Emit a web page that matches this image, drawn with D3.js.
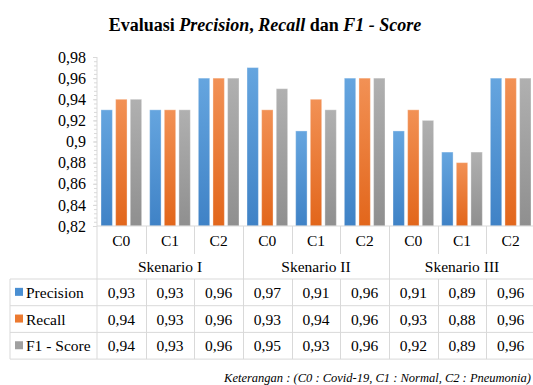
<!DOCTYPE html>
<html>
<head>
<meta charset="utf-8">
<script src="https://cdn.jsdelivr.net/npm/d3@7/dist/d3.min.js"></script>
<style>
  @font-face { font-family: 'ChartSerif'; src: local('Liberation Serif'), local('LiberationSerif'), local('Times New Roman'); font-weight: normal; font-style: normal; }
  @font-face { font-family: 'ChartSerif'; src: local('Liberation Serif Bold'), local('LiberationSerif-Bold'); font-weight: bold; font-style: normal; }
  @font-face { font-family: 'ChartSerif'; src: local('Liberation Serif Italic'), local('LiberationSerif-Italic'); font-weight: normal; font-style: italic; }
  @font-face { font-family: 'ChartSerif'; src: local('Liberation Serif Bold Italic'), local('LiberationSerif-BoldItalic'); font-weight: bold; font-style: italic; }
</style>
</head>
<body style="margin:0;background:#fff">
<svg id="fig" width="533" height="385" style="display:block"></svg>
<script>
// Data
var scenarios = ['Skenario I', 'Skenario II', 'Skenario III'];
var classes = ['C0', 'C1', 'C2'];
var seriesNames = ['Precision', 'Recall', 'F1 - Score'];
var precision = [0.93, 0.93, 0.96, 0.97, 0.91, 0.96, 0.91, 0.89, 0.96];
var recall    = [0.94, 0.93, 0.96, 0.93, 0.94, 0.96, 0.93, 0.88, 0.96];
var f1score   = [0.94, 0.93, 0.96, 0.95, 0.93, 0.96, 0.92, 0.89, 0.96];
var yTicks = [0.82, 0.84, 0.86, 0.88, 0.9, 0.92, 0.94, 0.96, 0.98];

var seriesValues = [precision, recall, f1score];
var palette = [
  { top: '#65a5df', bottom: '#3f82c6', legend: '#4a8fd2' },
  { top: '#f29155', bottom: '#e2661b', legend: '#ec7a30' },
  { top: '#b0b0b0', bottom: '#8f8f8f', legend: '#a0a0a0' }
];

var FONT = 'Liberation Serif';
var svg = d3.select('#fig');
var W = 533;

var plotLeft = 97, plotRight = 535;
var plotTop = 57, plotBottom = 226;
var catRowBottom = 254, scenRowBottom = 279;
var rowH = 26.7;
var tableLeft = 10;
var lineColor = '#d9d9d9';
var fs = 15.5;

// groups: one per scenario/class pair
var groups = [];
scenarios.forEach(function(s) {
  classes.forEach(function(c) { groups.push(s + '|' + c); });
});

var x0 = d3.scaleBand().domain(groups).range([plotLeft, plotRight]);
var x1 = d3.scaleBand().domain(seriesNames).range([4, x0.bandwidth() - 4]).paddingInner(0.22);
var y = d3.scaleLinear().domain([0.82, 0.98]).range([plotBottom, plotTop]);

function serif(sel, size) {
  return sel.attr('font-family', FONT)
    .attr('font-size', size)
    .style('font-family', "'Liberation Serif', ChartSerif, 'Times New Roman', serif");
}

// gradients
var defs = svg.append('defs');
palette.forEach(function(p, i) {
  var g = defs.append('linearGradient')
    .attr('id', 'grad' + i)
    .attr('x1', 0).attr('y1', 0).attr('x2', 0).attr('y2', 1);
  g.append('stop').attr('offset', '0%').attr('stop-color', p.top);
  g.append('stop').attr('offset', '100%').attr('stop-color', p.bottom);
});

// title
var title = svg.append('text')
  .attr('x', 265)
  .attr('y', 31)
  .attr('text-anchor', 'middle')
  .attr('font-weight', 'bold')
  .attr('fill', '#000')
  .call(serif, 18);
title.append('tspan').text('Evaluasi ');
title.append('tspan').attr('font-style', 'italic').text('Precision');
title.append('tspan').text(', ');
title.append('tspan').attr('font-style', 'italic').text('Recall');
title.append('tspan').text(' dan ');
title.append('tspan').attr('font-style', 'italic').text('F1 - Score');

// y axis with minor ticks
var yAxis = d3.axisLeft(y)
  .tickValues(yTicks)
  .tickSize(4)
  .tickPadding(7)
  .tickFormat(function(d) { return d3.format('.2~f')(d).replace('.', ','); });

var minor = d3.range(0, 41).map(function(i) { return 0.82 + i * 0.004; });
svg.append('g')
  .attr('transform', 'translate(' + plotLeft + ',0)')
  .call(d3.axisLeft(y).tickValues(minor).tickSize(3).tickFormat(''))
  .call(function(g) {
    g.select('.domain').remove();
    g.selectAll('line').attr('stroke', lineColor);
  });

svg.append('g')
  .attr('transform', 'translate(' + plotLeft + ',0)')
  .call(yAxis)
  .call(function(g) {
    g.attr('font-family', FONT).attr('font-size', 16);
    g.select('.domain').attr('stroke', lineColor).attr('d', 'M0,' + plotTop + 'V' + plotBottom);
    g.selectAll('.tick line').attr('stroke', lineColor);
    g.selectAll('.tick text').attr('fill', '#000').call(serif, 16);
  });

// bars
seriesNames.forEach(function(name, si) {
  svg.append('g')
    .selectAll('rect')
    .data(seriesValues[si])
    .join('rect')
    .attr('x', function(d, i) { return x0(groups[i]) + x1(name); })
    .attr('y', function(d) { return y(d); })
    .attr('width', x1.bandwidth())
    .attr('height', function(d) { return plotBottom - y(d); })
    .attr('fill', 'url(#grad' + si + ')')
    .attr('stroke', 'rgba(255,255,255,0.35)')
    .attr('stroke-width', 1);
});

// table grid
var grid = svg.append('g').attr('stroke', lineColor).attr('stroke-width', 1).attr('fill', 'none');
var rowLines = [scenRowBottom, scenRowBottom + rowH, scenRowBottom + 2 * rowH, scenRowBottom + 3 * rowH];
rowLines.forEach(function(yy) {
  grid.append('line').attr('x1', tableLeft).attr('x2', W).attr('y1', yy).attr('y2', yy);
});
// x-axis line
grid.append('line').attr('x1', plotLeft).attr('x2', W).attr('y1', plotBottom).attr('y2', plotBottom);
// left borders
grid.append('line').attr('x1', tableLeft).attr('x2', tableLeft).attr('y1', scenRowBottom).attr('y2', rowLines[3]);
grid.append('line').attr('x1', plotLeft).attr('x2', plotLeft).attr('y1', plotBottom).attr('y2', rowLines[3]);
groups.forEach(function(gk, i) {
  if (i === 0) return;
  var xx = Math.round(x0(gk)) + 0.5;
  var isScen = i % classes.length === 0;
  grid.append('line').attr('x1', xx).attr('x2', xx)
    .attr('y1', plotBottom).attr('y2', isScen ? rowLines[3] : catRowBottom);
  if (!isScen) {
    grid.append('line').attr('x1', xx).attr('x2', xx)
      .attr('y1', scenRowBottom).attr('y2', rowLines[3]);
  }
});

var labels = svg.append('g').attr('fill', '#000').attr('font-family', FONT);

// class labels
labels.append('g')
  .selectAll('text')
  .data(groups)
  .join('text')
  .attr('x', function(d) { return x0(d) + x0.bandwidth() / 2; })
  .attr('y', 246)
  .attr('text-anchor', 'middle')
  .call(serif, fs)
  .text(function(d) { return d.split('|')[1]; });

// scenario labels
labels.append('g')
  .selectAll('text')
  .data(scenarios)
  .join('text')
  .attr('x', function(d, i) { return x0(groups[i * 3]) + x0.bandwidth() * 1.5; })
  .attr('y', 272)
  .attr('text-anchor', 'middle')
  .call(serif, fs)
  .text(function(d) { return d; });

// data rows
seriesNames.forEach(function(name, si) {
  var cy = scenRowBottom + rowH * si + rowH / 2;
  labels.append('rect')
    .attr('x', 15).attr('y', cy - 4.5)
    .attr('width', 8).attr('height', 8)
    .attr('fill', palette[si].legend);
  labels.append('text')
    .attr('x', 26).attr('y', cy + 5.5)
    .call(serif, fs)
    .text(name);
  labels.append('g')
    .selectAll('text')
    .data(seriesValues[si])
    .join('text')
    .attr('x', function(d, i) { return x0(groups[i]) + x0.bandwidth() / 2; })
    .attr('y', cy + 5.5)
    .attr('text-anchor', 'middle')
    .call(serif, fs)
    .text(function(d) { return d3.format('.2f')(d).replace('.', ','); });
});

// footnote
svg.append('text')
  .attr('x', 531)
  .attr('y', 382)
  .attr('text-anchor', 'end')
  .attr('font-style', 'italic')
  .call(serif, 12.5)
  .text('Keterangan : (C0 : Covid-19,  C1 : Normal,   C2 : Pneumonia)');
</script>
</body>
</html>
